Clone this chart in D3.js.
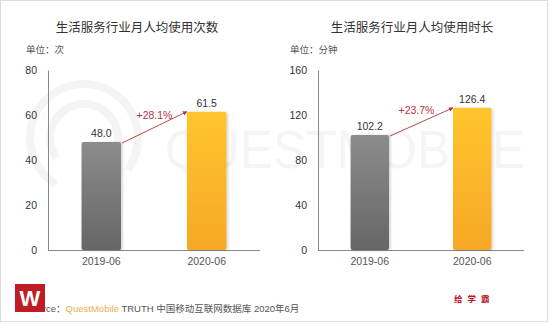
<!DOCTYPE html>
<html><head><meta charset="utf-8">
<script src="https://cdn.jsdelivr.net/npm/d3@7/dist/d3.min.js"></script>
<style>
html,body{margin:0;padding:0;background:#fff;}
svg{display:block;font-family:"Liberation Sans","Noto Sans CJK SC",sans-serif;}
</style></head>
<body>
<svg id="c" width="550" height="324"></svg>
<script>
// ---- data ----
const categories = ["2019-06", "2020-06"];
const visitsValues = [48.0, 61.5];
const durationValues = [102.2, 126.4];
const visitsTicks = [0, 20, 40, 60, 80];
const durationTicks = [0, 40, 80, 120, 160];
const growthLabels = ["+28.1%", "+23.7%"];
const chartTitles = ["生活服务行业月人均使用次数", "生活服务行业月人均使用时长"];
const unitLabels = ["单位：次", "单位：分钟"];
const sourceParts = ["Source：", "QuestMobile", " TRUTH 中国移动互联网数据库 2020年6月"];
const brandText = "给学霸";

const svg = d3.select("#c");
const defs = svg.append("defs");

const gGray = defs.append("linearGradient").attr("id","gGray").attr("x1",0).attr("y1",0).attr("x2",0).attr("y2",1);
gGray.append("stop").attr("offset","0%").attr("stop-color","#8c8c8c");
gGray.append("stop").attr("offset","100%").attr("stop-color","#666666");
const gGold = defs.append("linearGradient").attr("id","gGold").attr("x1",0).attr("y1",0).attr("x2",0).attr("y2",1);
gGold.append("stop").attr("offset","0%").attr("stop-color","#ffc52d");
gGold.append("stop").attr("offset","100%").attr("stop-color","#f6a827");
const shadow = defs.append("filter").attr("id","sh").attr("x","-20%").attr("y","-10%").attr("width","150%").attr("height","130%");
shadow.append("feDropShadow").attr("dx",1.5).attr("dy",0.5).attr("stdDeviation",1.2).attr("flood-color","#000").attr("flood-opacity",0.18);
const mk = defs.append("marker").attr("id","arr").attr("viewBox","0 0 10 10").attr("refX",9).attr("refY",5)
  .attr("markerWidth",5).attr("markerHeight",5).attr("orient","auto");
mk.append("path").attr("d","M0,0L10,5L0,10Z").attr("fill","#b3343f");

// frame
svg.append("rect").attr("x",0.5).attr("y",0.5).attr("width",547).attr("height",321)
  .attr("fill","#fff").attr("stroke","#dcdcdc");

// faint watermark
const wm = svg.append("g").attr("fill","none").attr("stroke","#f3f3f3");
const arc = d3.arc();
wm.append("path").attr("transform","translate(84,138)")
  .attr("d", arc({innerRadius:50,outerRadius:58,startAngle:-2.6,endAngle:2.2})).attr("fill","#f4f4f4").attr("stroke","none");
wm.append("path").attr("transform","translate(84,138)")
  .attr("d", arc({innerRadius:30,outerRadius:38,startAngle:-2.2,endAngle:2.6})).attr("fill","#f4f4f4").attr("stroke","none");
svg.append("text").attr("x",165).attr("y",168).attr("font-size",54)
  .attr("textLength",360).attr("lengthAdjust","spacingAndGlyphs")
  .attr("fill","#f5f5f5").text("QUESTMOBILE");

function drawChart(cfg){
  const {values, ticks, x0, x1, title, titleX, unit, unitX, growth, labelDx} = cfg;
  const y = d3.scaleLinear().domain([0, ticks[ticks.length-1]]).range([250, 70]);
  const x = d3.scaleBand().domain(categories).range([x0, x1]).paddingInner(0.625).paddingOuter(0.318);
  const g = svg.append("g");

  g.append("text").attr("x",titleX).attr("y",32).attr("text-anchor","middle")
    .attr("font-size",12.5).attr("fill","#333").text(title);
  g.append("text").attr("x",unitX).attr("y",53).attr("font-size",9.5).attr("fill","#555").text(unit);

  // y axis labels
  const ya = g.append("g").attr("transform",`translate(${x0},0)`)
    .call(d3.axisLeft(y).tickValues(ticks).tickSize(0).tickPadding(11).tickFormat(d3.format("d")));
  ya.select(".domain").attr("stroke","#8a8a8a");
  ya.selectAll("text").attr("font-size",10.5).attr("fill","#333").attr("font-family","Liberation Sans, sans-serif");

  // x axis
  const xa = g.append("g").attr("transform","translate(0,250)")
    .call(d3.axisBottom(x).tickSize(0).tickPadding(8));
  xa.select(".domain").attr("stroke","#8a8a8a").attr("d",`M${x0},0.5H${x1}`);
  xa.selectAll("text").attr("font-size",10.5).attr("fill","#555").attr("font-family","Liberation Sans, sans-serif");

  // bars
  g.selectAll("rect.bar").data(values).join("rect").attr("class","bar")
    .attr("x",(d,i)=>x(categories[i])).attr("width",x.bandwidth())
    .attr("y",d=>y(d)).attr("height",d=>y(0)-y(d)).attr("rx",2)
    .attr("fill",(d,i)=> i===0 ? "url(#gGray)" : "url(#gGold)")
    .attr("filter","url(#sh)");
  g.selectAll("text.val").data(values).join("text").attr("class","val")
    .attr("x",(d,i)=>x(categories[i])+x.bandwidth()/2).attr("y",d=>y(d)-5)
    .attr("text-anchor","middle").attr("font-size",10.5).attr("fill","#333")
    .text(d=>d3.format(".1f")(d));

  // growth arrow
  const sx = x(categories[0]) + x.bandwidth() + 1, sy = y(values[0]) + 1;
  const ex = x(categories[1]), ey = y(values[1]);
  g.append("line").attr("x1",sx).attr("y1",sy).attr("x2",ex).attr("y2",ey)
    .attr("stroke","#b3343f").attr("stroke-width",0.9).attr("marker-end","url(#arr)");
  g.append("text").attr("x",(sx+ex)/2 + labelDx).attr("y",(sy+ey)/2 - 8)
    .attr("text-anchor","middle").attr("font-size",10.5).attr("fill","#b3343f").text(growth);
}

drawChart({values:visitsValues, ticks:visitsTicks, x0:48, x1:260, title:chartTitles[0], titleX:137,
  unit:unitLabels[0], unitX:26, growth:growthLabels[0], labelDx:0});
drawChart({values:durationValues, ticks:durationTicks, x0:318, x1:524, title:chartTitles[1], titleX:412,
  unit:unitLabels[1], unitX:290, growth:growthLabels[1], labelDx:-5});

// footer
const src = svg.append("text").attr("x",26).attr("y",312).attr("font-size",9.5).attr("fill","#555");
src.append("tspan").text(sourceParts[0]);
src.append("tspan").attr("fill","#e6b14c").text(sourceParts[1]);
src.append("tspan").text(sourceParts[2]);

// red logo
svg.append("rect").attr("x",15).attr("y",284).attr("width",30).attr("height",28).attr("fill","#bf1d24");
svg.append("text").attr("x",30).attr("y",306).attr("text-anchor","middle").attr("font-size",22)
  .attr("font-weight","bold").attr("fill","#fff").attr("font-family","Liberation Sans, sans-serif").text("W");

svg.append("text").attr("x",454).attr("y",302).attr("font-size",8.5).attr("font-weight","bold")
  .attr("letter-spacing",5).attr("fill","#c0141c").text(brandText);
</script>
</body></html>
